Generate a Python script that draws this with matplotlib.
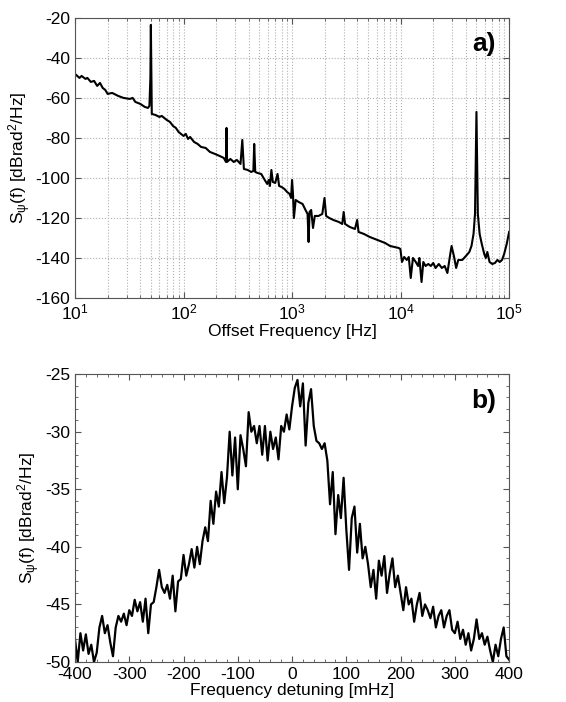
import matplotlib
matplotlib.use("Agg")
import matplotlib.pyplot as plt
import numpy as np
from matplotlib.ticker import MultipleLocator, LogLocator, NullFormatter

plt.rcParams['font.family'] = ['Liberation Sans', 'DejaVu Sans']
plt.rcParams['mathtext.fontset'] = 'custom'
plt.rcParams['mathtext.rm'] = 'Liberation Sans'
plt.rcParams['mathtext.it'] = 'Liberation Sans'
plt.rcParams['mathtext.bf'] = 'Liberation Sans:bold'
plt.rcParams['axes.unicode_minus'] = False

# panel a) : phase noise PSD vs offset frequency
freq_hz = [10, 11, 11.5, 12.5, 13, 14, 15, 16, 17, 18, 19, 20, 22, 25, 28, 32, 34, 36, 40, 44,
           47, 48.5, 49.5, 50, 50.5, 51, 55, 60, 63, 70, 75, 80, 85, 90, 95, 100, 105, 110, 115, 125,
           135, 145, 160, 175, 195, 215, 235, 246, 249, 252, 270, 290, 310, 335, 348, 360, 390, 420, 440, 448,
           458, 480, 520, 560, 590, 610, 625, 645, 665, 700, 735, 760, 800, 850, 900, 950, 980, 1000, 1020, 1040,
           1080, 1150, 1250, 1330, 1390, 1420, 1450, 1500, 1560, 1620, 1750, 1900, 1990, 2060, 2200, 2400, 2700, 2900, 2990, 3080,
           3400, 3800, 3980, 4100, 4600, 5200, 5800, 6500, 7200, 8000, 8800, 9600, 9950, 10300, 10800, 11400, 11900, 12400, 13000, 13800,
           14500, 14900, 15600, 16200, 17000, 18000, 19000, 20000, 21000, 22500, 24000, 25500, 27000, 28500, 29500, 31000, 32500, 34000, 37000, 40000,
           43000, 45000, 47000, 48500, 50000, 51500, 53500, 56000, 59000, 61000, 63000, 66000, 70000, 74000, 78000, 82000, 86000, 90000, 95000, 100000]
psd_a = [-48, -50, -49, -50.5, -50, -52, -51.5, -54, -52.5, -55, -56, -58, -57.5, -59, -60, -60.5, -60, -62, -63, -64.5,
         -65, -64, -50, -23.5, -45, -68, -68.5, -69.5, -69, -71, -72, -74, -75, -77, -78, -79, -78, -80.5, -79.5, -82,
         -83, -84.5, -85, -87, -88, -89, -90, -92, -75, -92, -90.5, -92, -91, -93, -81, -95.5, -96, -97, -96.5, -83,
         -97, -97.5, -98, -101, -103, -101, -104, -96, -102, -102.5, -98, -104, -104.5, -105.5, -107, -108, -110, -101, -108, -120,
         -111, -112, -113, -116, -118, -132, -117, -116, -125, -119, -119, -118, -110, -119, -120, -121, -122, -123, -117, -123,
         -124.5, -125.5, -121, -127, -128, -129.5, -130.5, -131.5, -132.5, -134, -134.5, -135, -135.5, -142, -139.5, -141, -139.5, -150, -140, -142,
         -144, -140, -152, -142, -144, -143, -144, -142.5, -145, -143, -145, -144, -147.5, -139, -134, -139, -145, -141, -141, -139,
         -137, -134, -128, -118, -67, -118, -128, -133, -138, -140, -137, -142, -143, -142.5, -141, -142, -141, -138, -133, -127]

# panel b) : spectrum vs frequency detuning (5 mHz steps)
detuning_mhz = np.arange(-400, 405, 5)
psd_b = [-48.0, -50.0, -47.5, -49.0, -47.6, -49.3, -48.5, -50.0, -49.2, -47.0,
         -46.0, -47.5, -46.8, -48.3, -49.5, -47.0, -46.0, -46.5, -45.8, -46.8,
         -45.5, -46.0, -44.6, -45.6, -44.8, -46.5, -44.5, -47.5, -45.0, -44.8,
         -43.5, -42.0, -43.5, -44.0, -43.3, -44.5, -42.5, -45.6, -43.0, -42.8,
         -40.7, -42.5, -41.5, -40.2, -41.8, -40.0, -41.5, -39.5, -38.3, -39.5,
         -36.0, -38.0, -35.2, -36.5, -33.5, -36.2, -34.0, -30.0, -33.8, -30.5,
         -35.0, -30.3, -31.5, -33.0, -28.3, -30.0, -29.5, -31.0, -29.5, -32.0,
         -29.5, -32.5, -30.0, -31.5, -30.5, -32.4, -29.5, -30.0, -28.5, -29.8,
         -27.8, -26.2, -25.5, -27.8, -25.8, -31.2, -27.5, -26.3, -29.5, -30.8,
         -31.0, -31.5, -31.0, -32.5, -36.3, -33.5, -38.9, -35.5, -37.5, -34.0,
         -38.5, -42.0, -37.5, -36.5, -40.5, -38.0, -41.0, -40.0, -41.5, -43.5,
         -42.0, -44.5, -41.2, -42.5, -40.8, -44.0, -42.3, -41.0, -43.5, -42.5,
         -44.0, -45.5, -43.5, -45.0, -44.5, -46.5, -45.0, -44.0, -46.0, -45.0,
         -45.5, -46.2, -45.2, -47.0, -46.0, -45.5, -47.0, -46.0, -45.5, -47.2,
         -47.5, -46.5, -48.0, -47.2, -48.5, -47.5, -49.0, -48.0, -46.3, -48.0,
         -47.5, -48.5, -47.8, -49.0, -50.0, -48.5, -49.5, -48.0, -47.0, -49.5, -49.8]

ylab = r'S$_{\psi}$(f) [dBrad$^{2}$/Hz]'
spine_col = '#555555'

fig = plt.figure(figsize=(5.66, 7.02), dpi=100)
ax1 = fig.add_axes([0.1325, 0.5755, 0.767, 0.399])
ax2 = fig.add_axes([0.1325, 0.057, 0.767, 0.410])

# --- a) ---
ax1.semilogx(freq_hz, psd_a, color='black', lw=1.5)
ax1.set_xlim(10, 1e5)
ax1.set_ylim(-160, -20)
ax1.yaxis.set_major_locator(MultipleLocator(20))
ax1.xaxis.set_minor_locator(LogLocator(base=10, subs=np.arange(2, 10)))
ax1.xaxis.set_minor_formatter(NullFormatter())
ax1.grid(True, which='major', axis='both', linestyle=':', color='#b0b0b0', lw=0.8)
ax1.grid(True, which='minor', axis='x', linestyle=':', color='#b0b0b0', lw=0.8)
ax1.set_xlabel('Offset Frequency [Hz]', fontsize=12.5, labelpad=1)
ax1.set_ylabel(ylab, fontsize=12.5, labelpad=2)
ax1.text(0.97, 0.95, 'a)', transform=ax1.transAxes, ha='right', va='top',
         fontsize=19, fontweight='bold')

# --- b) ---
ax2.plot(detuning_mhz, psd_b, color='black', lw=1.6)
ax2.set_xlim(-400, 400)
ax2.set_ylim(-50, -25)
ax2.xaxis.set_major_locator(MultipleLocator(100))
ax2.xaxis.set_minor_locator(MultipleLocator(20))
ax2.yaxis.set_major_locator(MultipleLocator(5))
ax2.yaxis.set_minor_locator(MultipleLocator(1))
ax2.set_xlabel('Frequency detuning [mHz]', fontsize=12.5, labelpad=0.5)
ax2.set_ylabel(ylab, fontsize=12.5, labelpad=2)
ax2.text(0.97, 0.95, 'b)', transform=ax2.transAxes, ha='right', va='top',
         fontsize=19, fontweight='bold')

for ax in (ax1, ax2):
    ax.tick_params(which='both', direction='in', top=True, right=True,
                   labelsize=12.5, color=spine_col)
    ax.tick_params(which='major', length=4)
    ax.tick_params(which='minor', length=2)
    for s in ax.spines.values():
        s.set_color(spine_col)
        s.set_linewidth(0.8)

# bottom panel: keep "-50" and "-400" from colliding at the corner
ax2.tick_params(axis='x', pad=3.5)

fig.savefig('out.png', dpi=100)
